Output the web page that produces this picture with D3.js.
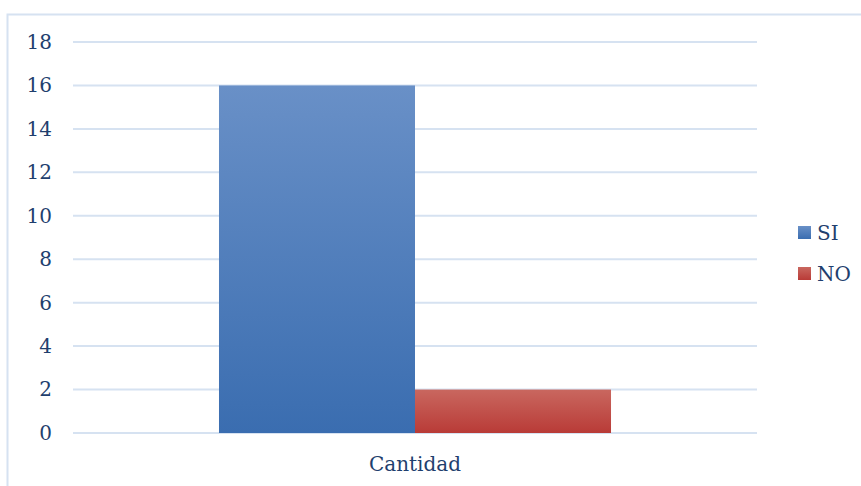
<!DOCTYPE html>
<html lang="es">
<head>
<meta charset="UTF-8">
<title>Cantidad</title>
<script src="https://d3js.org/d3.v7.min.js"></script>
<style>
body { margin: 0; background: white; }
svg { display: block; }
text { font-family: "DejaVu Serif", "Liberation Serif", serif; fill: #1f3f6e; }
</style>
</head>
<body>
<svg></svg>
<script>
let categories = ["Cantidad"];
let series = ["SI", "NO"];
let values = [16, 2];
let yTicks = [0, 2, 4, 6, 8, 10, 12, 14, 16, 18];

let width = 861, height = 486;
let svg = d3.select("svg").attr("width", width).attr("height", height);

// frame
svg.append("path")
  .attr("d", "M7.5," + height + " V14.5 H" + width)
  .attr("fill", "none")
  .attr("stroke", "#d6e2f1")
  .attr("stroke-width", 2);

let y = d3.scaleLinear().domain([0, 18]).range([433, 42]);
let x0 = d3.scaleBand().domain(categories).range([73, 757]).paddingInner(0).paddingOuter(0.3724);
let x1 = d3.scaleBand().domain(series).range([0, x0.bandwidth()]);

let defs = svg.append("defs");
function grad(id, top, bottom) {
  let g = defs.append("linearGradient").attr("id", id)
    .attr("x1", 0).attr("y1", 0).attr("x2", 0).attr("y2", 1);
  g.append("stop").attr("offset", "0%").attr("stop-color", top);
  g.append("stop").attr("offset", "100%").attr("stop-color", bottom);
}
grad("gSI", "#6990c7", "#3a6db0");
grad("gNO", "#c9675f", "#b93b37");

// gridlines
svg.append("g").selectAll("line").data(yTicks).enter().append("line")
  .attr("x1", 73).attr("x2", 757)
  .attr("y1", d => y(d)).attr("y2", d => y(d))
  .attr("stroke", "#d6e2f1").attr("stroke-width", 2);

// y labels
let yAxis = svg.append("g").attr("transform", "translate(52,0)")
  .call(d3.axisLeft(y).tickValues(yTicks).tickSize(0).tickPadding(0));
yAxis.select(".domain").remove();
yAxis.selectAll("text").attr("font-size", 20).attr("fill", "#1f3f6e")
  .attr("font-family", "DejaVu Serif, Liberation Serif, serif");

// bars
let cat = svg.append("g").selectAll("g").data(categories).enter().append("g")
  .attr("transform", d => "translate(" + x0(d) + ",0)");
cat.selectAll("rect").data(series.map((s, i) => ({ s: s, v: values[i] }))).enter().append("rect")
  .attr("x", d => x1(d.s))
  .attr("width", x1.bandwidth())
  .attr("y", d => y(d.v))
  .attr("height", d => y(0) - y(d.v))
  .attr("fill", d => "url(#g" + d.s + ")");

// x label
let xAxis = svg.append("g").attr("transform", "translate(0,433)")
  .call(d3.axisBottom(x0).tickSize(0).tickPadding(24));
xAxis.select(".domain").remove();
xAxis.selectAll("text").attr("font-size", 20).attr("fill", "#1f3f6e")
  .attr("font-family", "DejaVu Serif, Liberation Serif, serif");

// legend
let legend = svg.append("g").selectAll("g").data(series).enter().append("g")
  .attr("transform", (d, i) => "translate(798," + (226 + i * 41) + ")");
legend.append("rect").attr("width", 13).attr("height", 13)
  .attr("fill", d => "url(#g" + d + ")");
legend.append("text").attr("x", 19).attr("y", 7).attr("dy", "0.35em")
  .attr("font-size", 20).text(d => d);
</script>
</body>
</html>
